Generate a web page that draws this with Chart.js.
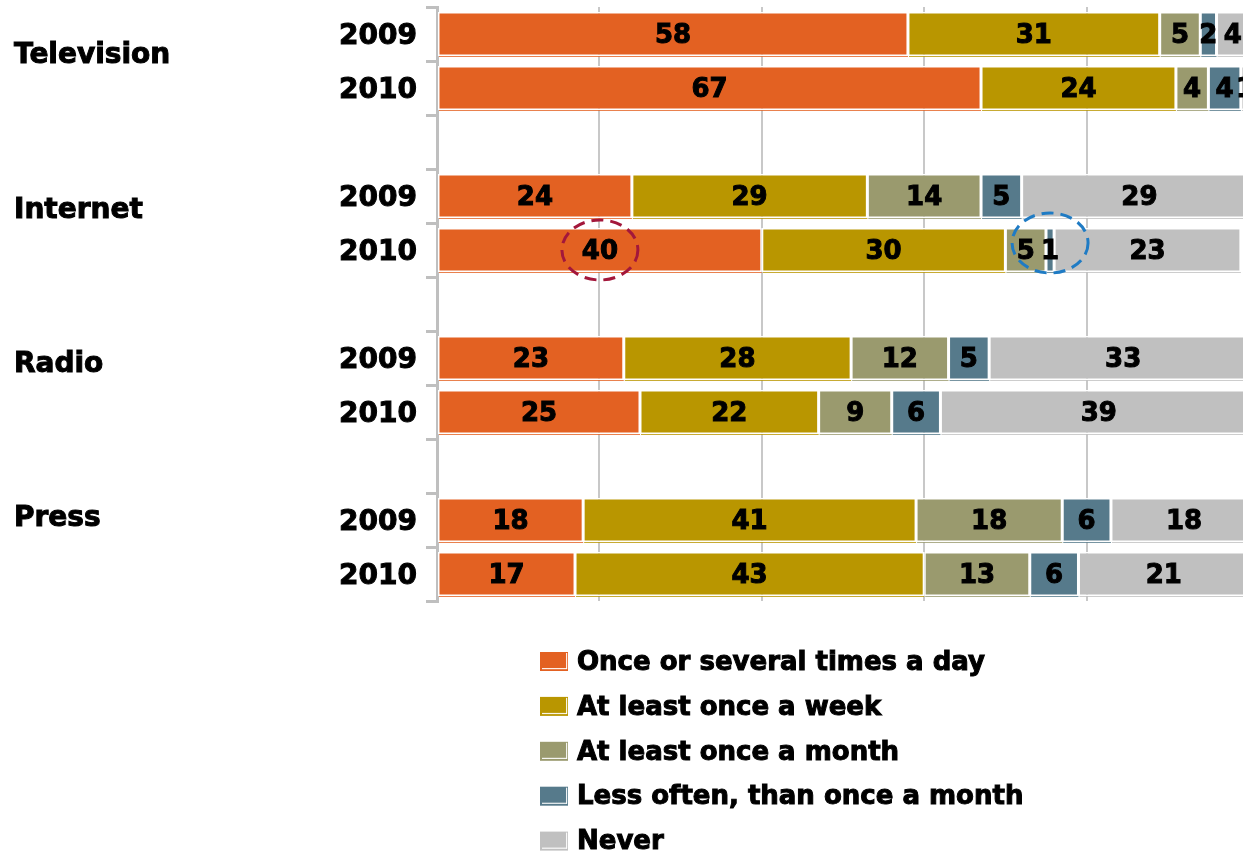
<!DOCTYPE html>
<html>
<head>
<meta charset="utf-8">
<script src="https://cdn.jsdelivr.net/npm/chart.js@4"></script>
<style>
  html, body { margin: 0; padding: 0; background: #fff; overflow: hidden; }
  #wrap { width: 1260px; height: 855px; }
</style>
</head>
<body>
<div id="wrap"><canvas id="c" width="1260" height="855"></canvas></div>
<script>
// media groups and survey years
const media = ['Television', 'Internet', 'Radio', 'Press'];
const years = ['2009', '2010'];

// series names
const series = [
  'Once or several times a day',
  'At least once a week',
  'At least once a month',
  'Less often, than once a month',
  'Never'
];

// percentages, one value per medium/year (TV 09, TV 10, Net 09, Net 10, ...)
const daily   = [58, 67, 24, 40, 23, 25, 18, 17];
const weekly  = [31, 24, 29, 30, 28, 22, 41, 43];
const monthly = [5, 4, 14, 5, 12, 9, 18, 13];
const rarely  = [2, 4, 5, 1, 5, 6, 6, 6];
const never   = [4, 1, 29, 23, 33, 39, 18, 21];

const colors = ['#E36122', '#B99600', '#9A9A6E', '#567A8B', '#C0C0C0'];
const FONT = '"DejaVu Sans", Verdana, sans-serif';

// rows: two years per medium with an empty slot between groups
const rowLabels = [];
const rowIndex = [];
media.forEach((m, i) => {
  years.forEach((y, j) => { rowLabels.push(y); rowIndex.push(i * 2 + j); });
  if (i < media.length - 1) { rowLabels.push(''); rowIndex.push(-1); }
});
const spread = arr => rowIndex.map(k => (k < 0 ? null : arr[k]));

const datasets = [daily, weekly, monthly, rarely, never].map((arr, i) => ({
  label: series[i],
  data: spread(arr),
  backgroundColor: colors[i],
  borderColor: '#ffffff',
  borderWidth: 1.5,
  borderSkipped: false,
  barPercentage: 0.815,
  categoryPercentage: 1
}));

// thin shadow line under each segment, then the value centred on it
const valueLabels = {
  id: 'valueLabels',
  afterDatasetsDraw(chart) {
    const ctx = chart.ctx;
    ctx.save();
    chart.data.datasets.forEach((ds, di) => {
      chart.getDatasetMeta(di).data.forEach((el, i) => {
        if (ds.data[i] == null) return;
        const left = Math.min(el.x, el.base);
        const bottom = el.y + el.height / 2;
        ctx.fillStyle = ds.backgroundColor;
        ctx.globalAlpha = 0.8;
        ctx.fillRect(left + 1, bottom, Math.abs(el.x - el.base) - 1, 1);
      });
    });
    ctx.globalAlpha = 1;
    ctx.font = 'bold 26px ' + FONT;
    ctx.fillStyle = '#000';
    ctx.strokeStyle = '#000';
    ctx.lineWidth = 1;
    ctx.textAlign = 'center';
    ctx.textBaseline = 'middle';
    chart.data.datasets.forEach((ds, di) => {
      chart.getDatasetMeta(di).data.forEach((el, i) => {
        const v = ds.data[i];
        if (v == null) return;
        const x = (el.x + el.base) / 2;
        ctx.fillText(String(v), x, el.y + 2);
        ctx.strokeText(String(v), x, el.y + 2);
      });
    });
    ctx.restore();
  }
};

// group names on the far left, dashed highlight rings, vertical legend
const extras = {
  id: 'extras',
  afterDraw(chart) {
    const ctx = chart.ctx;
    const a = chart.chartArea;
    const h = a.bottom - a.top;
    ctx.save();
    ctx.font = 'bold 28px ' + FONT;
    ctx.fillStyle = '#000';
    ctx.strokeStyle = '#000';
    ctx.lineWidth = 1;
    ctx.textAlign = 'left';
    ctx.textBaseline = 'middle';
    media.forEach((m, i) => {
      const y = a.top + h * (0.0825 + i * 0.2598);
      ctx.fillText(m, 14, y);
      ctx.strokeText(m, 14, y);
    });

    // rings around the Internet 2010 values
    const ring = (di, row, dy, color) => {
      const el = chart.getDatasetMeta(di).data[row];
      const cx = (el.x + el.base) / 2;
      ctx.beginPath();
      ctx.ellipse(cx, el.y + dy, 38, 30, 0, 0, Math.PI * 2);
      ctx.strokeStyle = color;
      ctx.lineWidth = 3;
      ctx.setLineDash([12, 7]);
      ctx.stroke();
    };
    ring(0, 4, 0, '#A3173B');
    ring(3, 4, -7, '#1F7BC4');
    ctx.setLineDash([]);

    // legend
    ctx.font = 'bold 26px ' + FONT;
    let y = a.bottom + 60;
    chart.data.datasets.forEach(ds => {
      ctx.fillStyle = ds.backgroundColor;
      ctx.fillRect(540, y - 9, 28, 19);
      ctx.fillStyle = 'rgba(255,255,255,0.9)';
      ctx.fillRect(542, y + 7, 25, 1.2);
      ctx.fillRect(566, y - 8, 1.2, 16);
      ctx.fillStyle = '#000';
      ctx.strokeStyle = '#000';
      ctx.lineWidth = 1;
      ctx.fillText(ds.label, 577, y + 2);
      ctx.strokeText(ds.label, 577, y + 2);
      y += 44.9;
    });
    ctx.restore();
  }
};

new Chart(document.getElementById('c'), {
  type: 'bar',
  data: { labels: rowLabels, datasets },
  plugins: [valueLabels, extras],
  options: {
    indexAxis: 'y',
    responsive: false,
    animation: false,
    layout: { padding: { top: 7, right: 11, bottom: 254, left: 0 } },
    plugins: { legend: { display: false }, tooltip: { enabled: false } },
    scales: {
      x: {
        stacked: true,
        min: 0,
        max: 100,
        ticks: { display: false, stepSize: 20 },
        grid: { color: '#C8C8C8', lineWidth: 2, drawTicks: false },
        border: { display: false },
        afterFit(scale) { scale.height = 0; }
      },
      y: {
        stacked: true,
        ticks: {
          color: '#000',
          font: { family: FONT, size: 28, weight: 'bold' },
          textStrokeColor: '#000',
          textStrokeWidth: 1,
          padding: 9,
          labelOffset: 3
        },
        grid: { color: '#BFBFBF', lineWidth: 3, drawOnChartArea: false, tickLength: 11 },
        border: { color: '#BFBFBF', width: 3 },
        afterFit(scale) {
          scale.width = 437;
          scale.paddingTop = 0;
          scale.paddingBottom = 0;
        }
      }
    }
  }
});
</script>
</body>
</html>
